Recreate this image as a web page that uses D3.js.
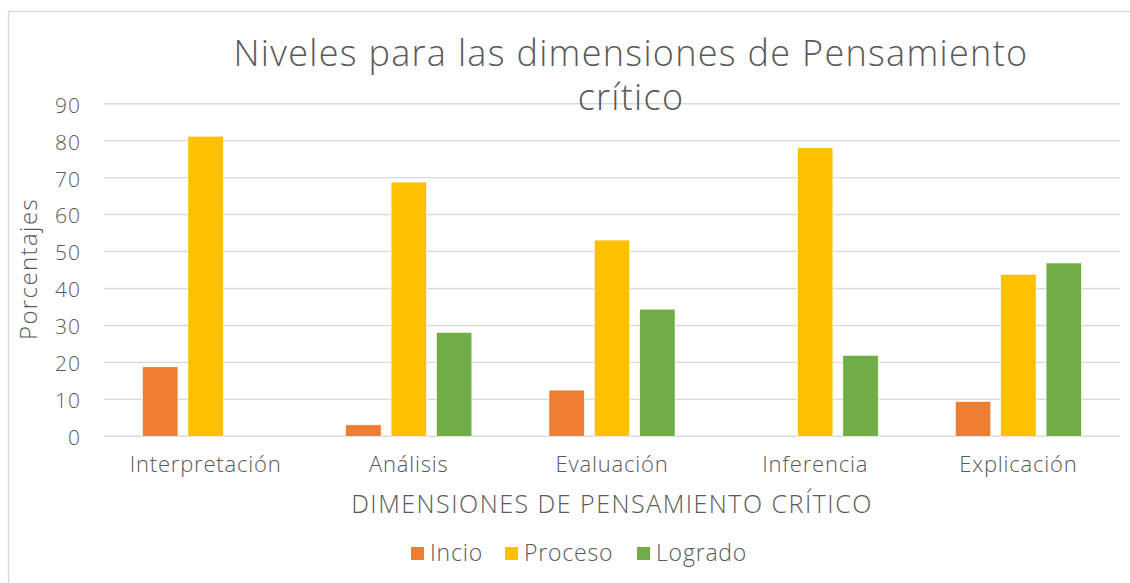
<!DOCTYPE html>
<html>
<head>
<meta charset="utf-8">
<script src="https://cdn.jsdelivr.net/npm/d3@7"></script>
<style>
  html, body { margin: 0; padding: 0; background: #fff; }
  svg { display: block; }
  text { font-family: "Open Sans", "Noto Sans", sans-serif; fill: #595959; }
</style>
</head>
<body>
<div id="chart"></div>
<script>
const categories = ['Interpretación', 'Análisis', 'Evaluación', 'Inferencia', 'Explicación'];
const seriesNames = ['Incio', 'Proceso', 'Logrado'];
const incio = [18.8, 3.1, 12.5, 0, 9.4];
const proceso = [81.2, 68.8, 53.1, 78.1, 43.8];
const logrado = [0, 28.1, 34.4, 21.9, 46.9];
const yTicks = [0, 10, 20, 30, 40, 50, 60, 70, 80, 90];
const colors = ['#ED7D31', '#FFC000', '#70AD47'];

const W = 1130, H = 583;
const plot = {left: 104, right: 1120, top: 103.7, bottom: 436.3};

const svg = d3.select('#chart')
  .append('svg')
  .attr('width', W)
  .attr('height', H);

// chart frame
svg.append('rect')
  .attr('x', 8.5).attr('y', 11.5)
  .attr('width', W + 20).attr('height', H + 20)
  .attr('fill', '#fff')
  .attr('stroke', '#d9d9d9')
  .attr('stroke-width', 1.3);

const x = d3.scaleBand().domain(categories).range([plot.left, plot.right]).paddingInner(0).paddingOuter(0);
const xInner = d3.scaleBand().domain(seriesNames).range([0, x.bandwidth()]).paddingInner(0.22).paddingOuter(0.85);
const y = d3.scaleLinear().domain([0, 90]).range([plot.bottom, plot.top]);

// gridlines
svg.append('g')
  .selectAll('line')
  .data(yTicks)
  .enter()
  .append('line')
  .attr('x1', plot.left).attr('x2', plot.right)
  .attr('y1', d => y(d)).attr('y2', d => y(d))
  .attr('stroke', '#d9d9d9')
  .attr('stroke-width', 1.4);

// y axis labels
const yAxis = svg.append('g')
  .attr('transform', `translate(${plot.left},0)`)
  .call(d3.axisLeft(y).tickValues(yTicks).tickSize(0).tickPadding(23));
yAxis.select('.domain').remove();
yAxis.selectAll('text')
  .style('font-size', '21px')
  .style('font-weight', 300)
  .style('letter-spacing', '1px')
  .attr('fill', '#595959')
  .attr('dy', '0.4em');

// x axis labels
const xAxis = svg.append('g')
  .attr('transform', `translate(0,${plot.bottom})`)
  .call(d3.axisBottom(x).tickSize(0).tickPadding(20));
xAxis.select('.domain').remove();
xAxis.selectAll('text')
  .style('font-size', '22px')
  .style('font-weight', 300)
  .style('letter-spacing', '0.8px')
  .attr('fill', '#595959');

// bars
const series = [incio, proceso, logrado];
const groups = svg.append('g')
  .selectAll('g')
  .data(series)
  .enter()
  .append('g')
  .attr('fill', (d, i) => colors[i]);

groups.each(function(values, si) {
  d3.select(this)
    .selectAll('rect')
    .data(values)
    .enter()
    .append('rect')
    .attr('x', (d, i) => x(categories[i]) + xInner(seriesNames[si]))
    .attr('y', d => y(d))
    .attr('width', xInner.bandwidth())
    .attr('height', d => y(0) - y(d))
    .attr('stroke', '#fff')
    .attr('stroke-width', 0.6);
});

// title
const title = svg.append('text')
  .attr('text-anchor', 'middle')
  .style('font-size', '36px')
  .style('font-weight', 300)
  .style('letter-spacing', '1.3px');
title.append('tspan').attr('x', 631).attr('y', 66).text('Niveles para las dimensiones de Pensamiento');
title.append('tspan').attr('x', 631).attr('y', 110).text('crítico');

// axis titles
svg.append('text')
  .attr('transform', 'translate(37,269) rotate(-90)')
  .attr('text-anchor', 'middle')
  .style('font-size', '24px')
  .style('font-weight', 300)
  .style('letter-spacing', '1.4px')
  .text('Porcentajes');

svg.append('text')
  .attr('x', 612).attr('y', 513)
  .attr('text-anchor', 'middle')
  .style('font-size', '25px')
  .style('font-weight', 300)
  .style('letter-spacing', '1.5px')
  .text('DIMENSIONES DE PENSAMIENTO CRÍTICO');

// legend
const legendX = [411, 505, 637];
const legend = svg.append('g')
  .selectAll('g')
  .data(seriesNames)
  .enter()
  .append('g')
  .attr('transform', (d, i) => `translate(${legendX[i]},547)`);
legend.append('rect')
  .attr('width', 13).attr('height', 13)
  .attr('fill', (d, i) => colors[i]);
legend.append('text')
  .attr('x', 19).attr('y', 14)
  .style('font-size', '23px')
  .style('font-weight', 300)
  .style('letter-spacing', '0.8px')
  .text(d => d);
</script>
</body>
</html>
